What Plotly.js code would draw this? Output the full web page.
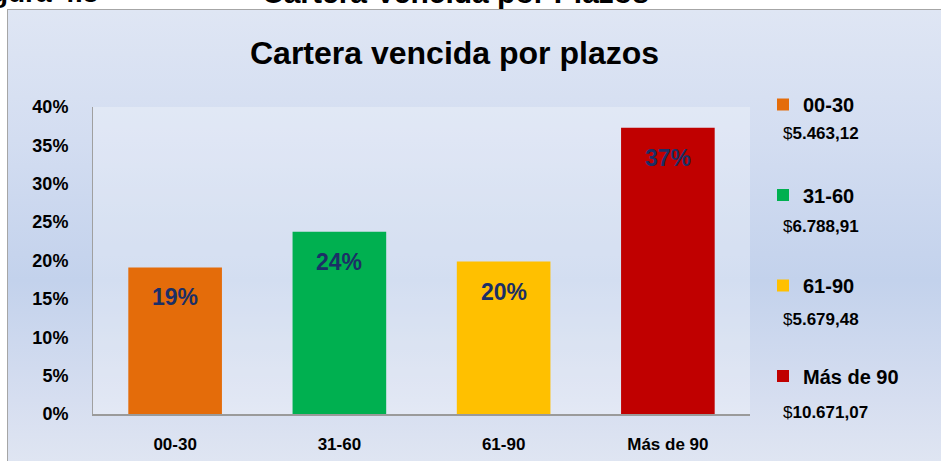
<!DOCTYPE html>
<html>
<head>
<meta charset="utf-8">
<script src="https://cdn.plot.ly/plotly-3.0.1.min.js"></script>
<style>
  html, body { margin:0; padding:0; background:#ffffff; width:941px; height:461px; overflow:hidden; }
  #bg { position:absolute; left:7px; top:9px; width:1000px; height:520px; border:1px solid #a6a6a6;
        background: linear-gradient(to bottom, #dfe6f4 0%, #d3ddf1 25%, #c3d2ec 52%, #d6def0 75%, #e9edf4 100%); }
  #chart { position:absolute; left:0; top:0; width:941px; height:461px; }
</style>
</head>
<body>
<div id="bg"></div>
<div id="chart"></div>
<script>
// ---- data ----
const categories = ["00-30", "31-60", "61-90", "Más de 90"];
const amounts = [5463.12, 6788.91, 5679.48, 10671.07];
const amountLabels = ["5.463,12", "6.788,91", "5.679,48", "10.671,07"];
const colors = ["#e46c0a", "#00b050", "#ffc000", "#c00000"];
const yTickVals = [0, 0.05, 0.10, 0.15, 0.20, 0.25, 0.30, 0.35, 0.40];

const total = amounts.reduce((a, b) => a + b, 0);
const shares = amounts.map(a => a / total);

const traces = categories.map((c, i) => ({
  type: "bar",
  name: c,
  legendgroup: "g" + i,
  x: [c],
  y: [shares[i]],
  width: 0.57,
  marker: { color: colors[i] },
  hoverinfo: "skip"
}));

// plot geometry (pixels)
const L = 93, R = 191, T = 107, B = 47, W = 941, H = 461;
const plotH = H - T - B, plotW = W - L - R;
const px2py = py => (H - B - py) / plotH;
const px2px = px => (px - L) / plotW;

const annotations = [];
// value labels inside bars
categories.forEach((c, i) => {
  annotations.push({
    x: c, y: shares[i], xref: "x", yref: "y",
    text: "<b>" + Math.round(shares[i] * 100) + "%</b>",
    showarrow: false, yanchor: "middle", yshift: -30,
    font: { family: "Liberation Sans, Arial, sans-serif", size: 23, color: "#1b2f66", weight: "bold" }
  });
});
// amounts in legend area
amountLabels.forEach((a, i) => {
  annotations.push({
    x: px2px(781), y: px2py(133 + i * 93), xref: "paper", yref: "paper",
    xanchor: "left", yanchor: "middle",
    text: "$<b>" + a + "</b>", showarrow: false,
    font: { family: "Liberation Sans, Arial, sans-serif", size: 17, color: "#000000" }
  });
});
// cut-off caption at top of page
annotations.push({
  x: px2px(100), y: px2py(-8), xref: "paper", yref: "paper", xanchor: "right", yanchor: "middle",
  text: "<b>Figura 4.8</b>", showarrow: false,
  font: { family: "Liberation Sans, Arial, sans-serif", size: 28, color: "#000" }
});
annotations.push({
  x: px2px(455), y: px2py(-8), xref: "paper", yref: "paper", xanchor: "center", yanchor: "middle",
  text: "<b>Cartera Vencida por Plazos</b>", showarrow: false,
  font: { family: "Liberation Sans, Arial, sans-serif", size: 30, color: "#000" }
});

const layout = {
  width: W, height: H,
  margin: { l: L, r: R, t: T, b: B, pad: 0, autoexpand: false },
  paper_bgcolor: "rgba(0,0,0,0)",
  plot_bgcolor: "rgba(255,255,255,0.28)",
  barmode: "overlay",
  title: {
    text: "<b>Cartera vencida por plazos</b>",
    x: 0.483, xanchor: "center", y: 1 - 53 / H, yanchor: "middle", yref: "container",
    font: { family: "Liberation Sans, Arial, sans-serif", size: 32, color: "#000" }
  },
  xaxis: {
    type: "category",
    showline: true, linecolor: "#9a9a9a", linewidth: 2,
    showgrid: false, zeroline: false, ticks: "",
    ticklabelstandoff: 14,
    tickfont: { family: "Liberation Sans, Arial, sans-serif", size: 17, color: "#000", weight: "bold" }
  },
  yaxis: {
    range: [0, 0.4],
    tickvals: yTickVals, tickformat: ".0%",
    showline: true, linecolor: "#a0a0a0", linewidth: 1,
    showgrid: false, zeroline: false, ticks: "",
    ticklabelstandoff: 20,
    tickfont: { family: "Liberation Sans, Arial, sans-serif", size: 18, color: "#000", weight: "bold" }
  },
  showlegend: true,
  legend: {
    xref: "paper", x: px2px(763), xanchor: "left",
    yref: "paper", y: px2py(85), yanchor: "top",
    maxheight: 420,
    bgcolor: "rgba(0,0,0,0)",
    tracegroupgap: 61.5,
    traceorder: "grouped",
    font: { family: "Liberation Sans, Arial, sans-serif", size: 20, color: "#000", weight: "bold" }
  },
  annotations: annotations
};

Plotly.newPlot("chart", traces, layout, { displayModeBar: false, staticPlot: true });
</script>
</body>
</html>
